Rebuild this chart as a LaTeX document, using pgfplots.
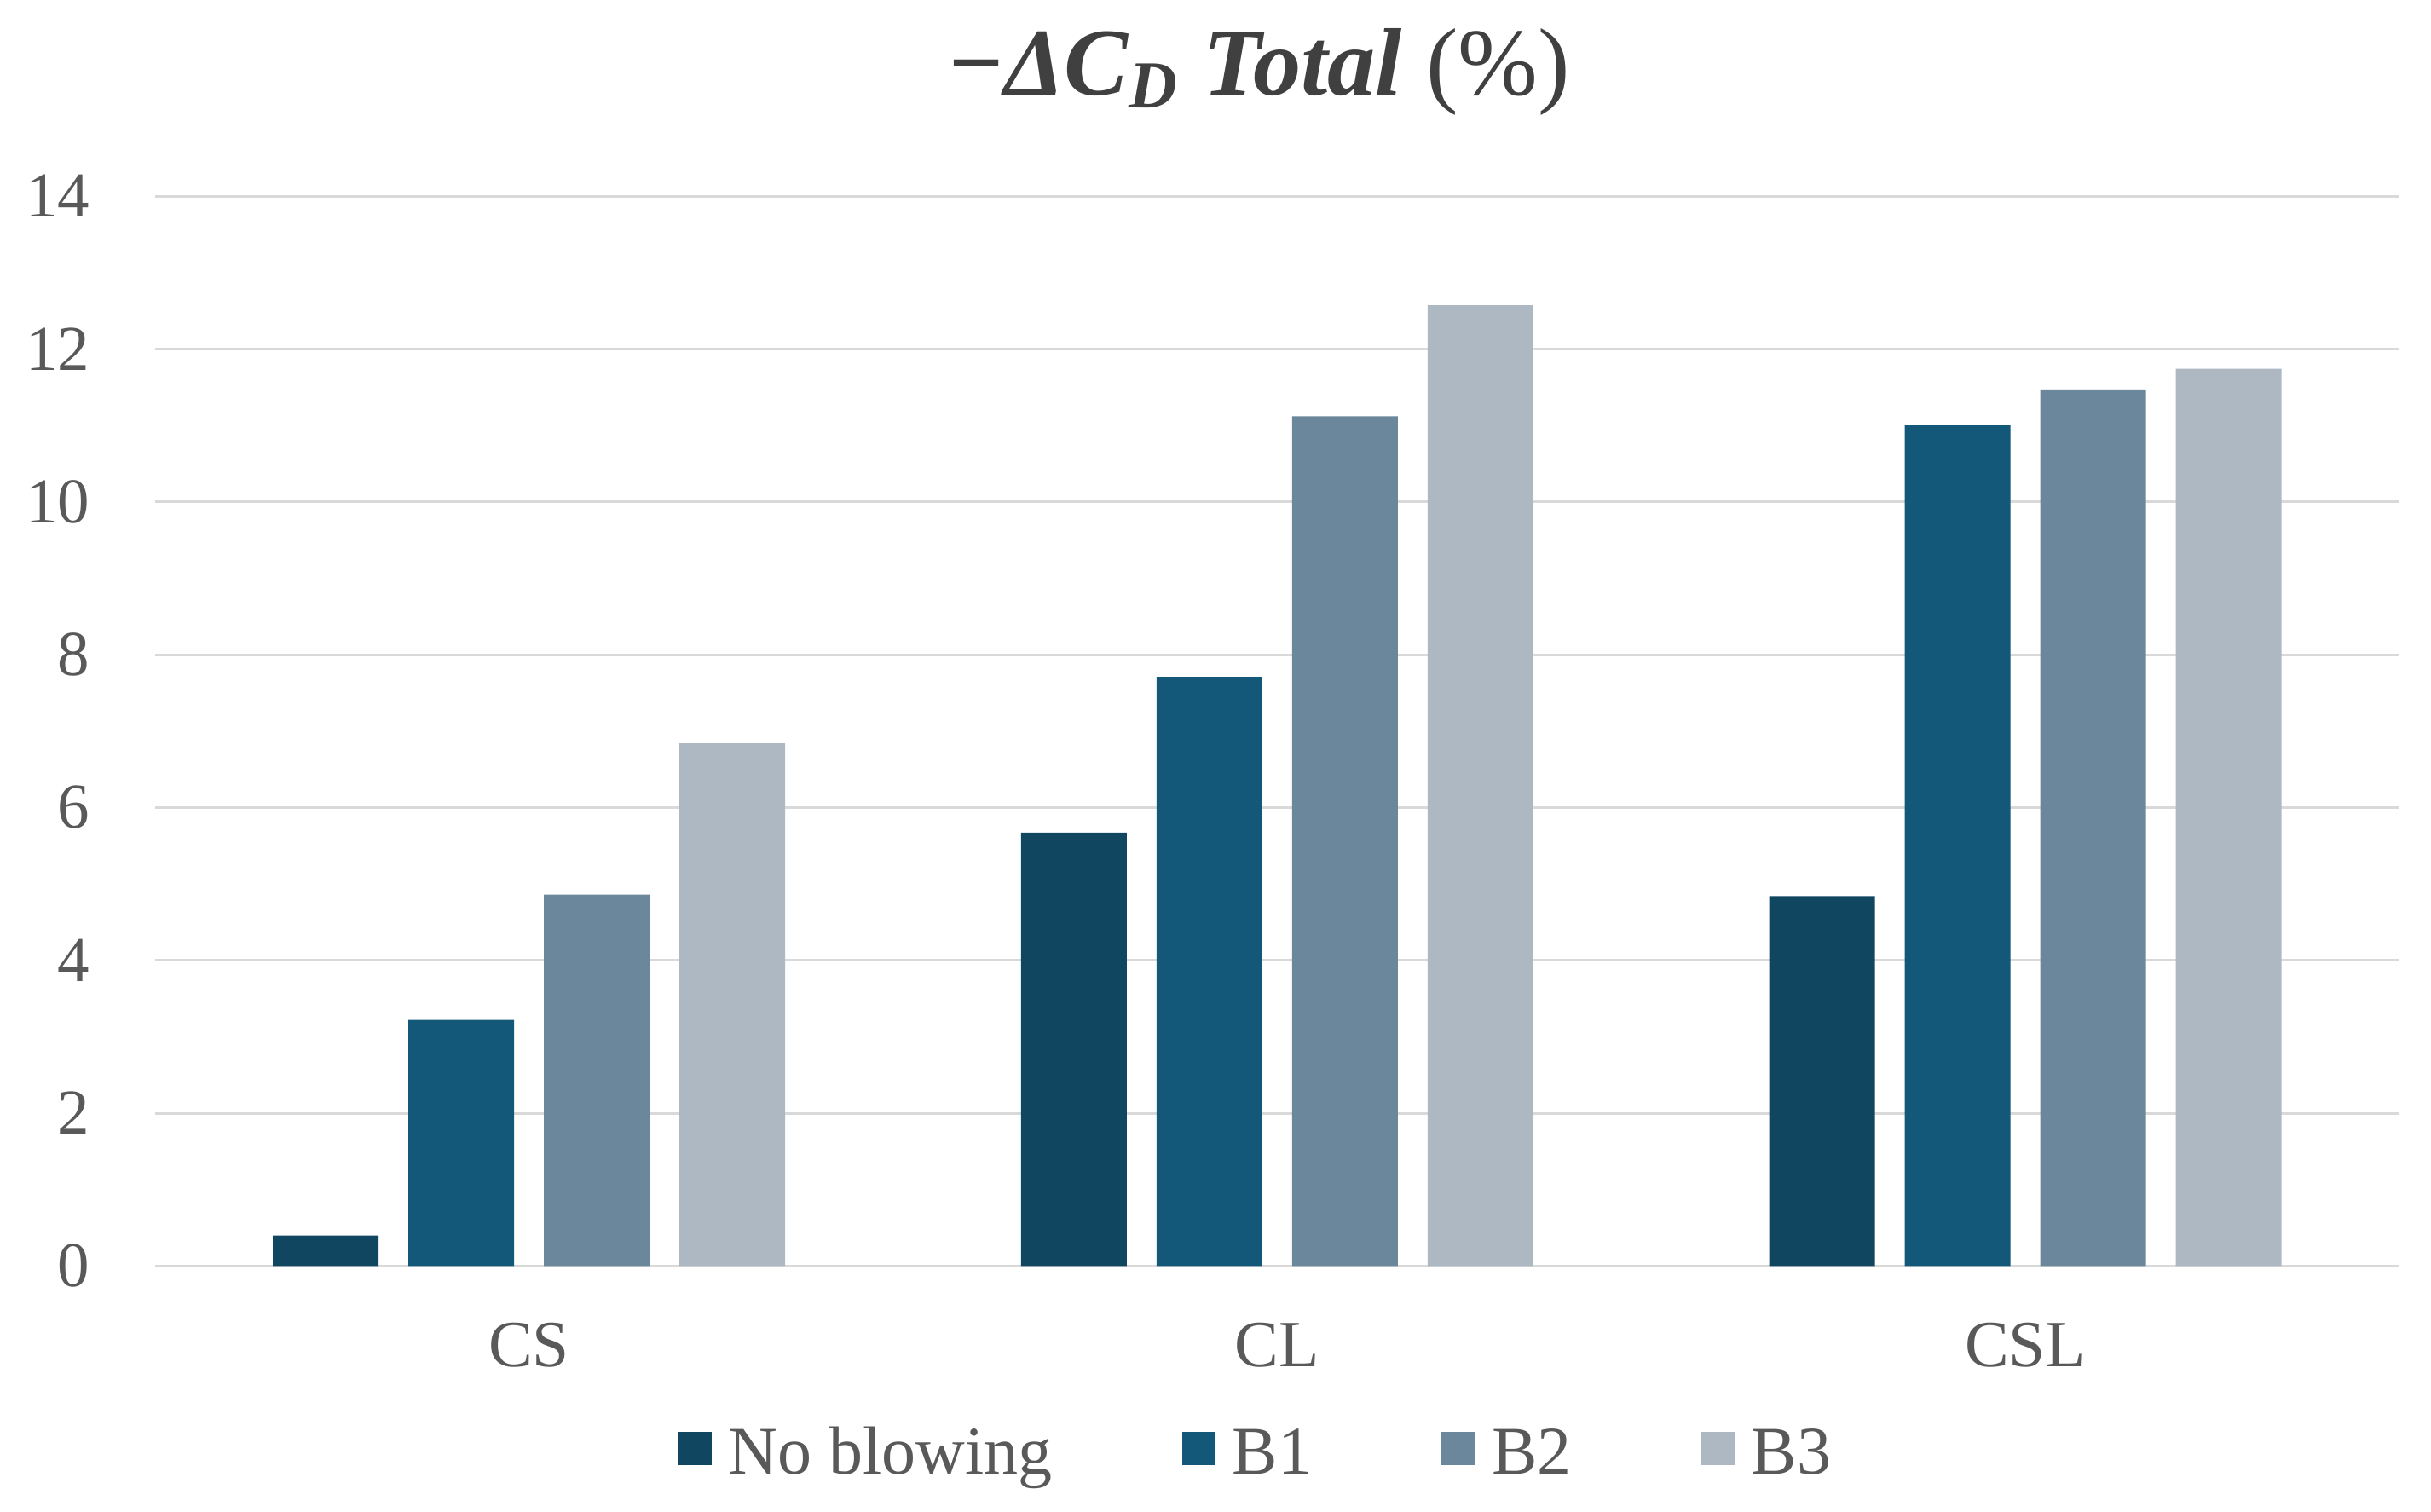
\documentclass[border=0pt]{standalone}
\usepackage{fontspec}
\setmainfont{Liberation Serif}
\usepackage{pgfplots}
\pgfplotsset{compat=1.18}
\definecolor{cNB}{HTML}{10465F}
\definecolor{cB1}{HTML}{135878}
\definecolor{cB2}{HTML}{6B879C}
\definecolor{cB3}{HTML}{AEB8C3}
\definecolor{textgray}{HTML}{595959}
\definecolor{titlegray}{HTML}{404040}
\definecolor{gridgray}{HTML}{D9D9D9}
\begin{document}
\begin{tikzpicture}
\useasboundingbox (-36.34pt,-57.52pt) rectangle (534.06pt,297.08pt);
\begin{axis}[
  scale only axis,
  width=526.66pt, height=251.08pt,
  xmin=-0.5, xmax=2.5, ymin=0, ymax=14,
  xtick={0,1,2}, xticklabels={CS,CL,CSL},
  ytick={0,2,...,14},
  ymajorgrids,
  grid style={draw=gridgray, line width=0.6pt},
  axis x line=bottom, axis y line=left,
  axis line style={draw=none,-},
  tick style={draw=none},
  /pgf/number format/assume math mode=true,
  yticklabel style={font=\fontsize{15}{18}\selectfont, text=textgray, anchor=east, inner sep=0pt, xshift=-13pt},
  xticklabel style={font=\fontsize{15.5}{18}\selectfont, text=textgray, anchor=base, inner sep=0pt, yshift=-19.3pt},
  ybar=7pt,
  bar width=24.8pt,
  title={\fontsize{22.5}{26}\selectfont\bfseries\itshape −ΔC\textsubscript{D} Total \normalfont(\%)},
  title style={at={(0.4915,1)}, anchor=base, yshift=17.8pt, text=titlegray, inner sep=0pt},
  legend columns=4,
  legend style={draw=none, fill=none, font=\fontsize{16}{19}\selectfont, text=textgray,
    at={(0.49,0)}, anchor=center, yshift=-45pt,
    /tikz/every odd column/.style={column sep=4pt},
    /tikz/every even column/.style={column sep=30.4pt},
    nodes={inner sep=0pt, text height=11pt, text depth=3.5pt}},
]
\addplot[fill=cNB, draw=none, legend image code/.code={\fill[cNB] (0pt,-1.75pt) rectangle (7.8pt,6.05pt);}] coordinates {(0,0.40) (1,5.67) (2,4.84)};
\addplot[fill=cB1, draw=none, legend image code/.code={\fill[cB1] (0pt,-1.75pt) rectangle (7.8pt,6.05pt);}] coordinates {(0,3.22) (1,7.71) (2,11.00)};
\addplot[fill=cB2, draw=none, legend image code/.code={\fill[cB2] (0pt,-1.75pt) rectangle (7.8pt,6.05pt);}] coordinates {(0,4.86) (1,11.12) (2,11.47)};
\addplot[fill=cB3, draw=none, legend image code/.code={\fill[cB3] (0pt,-1.75pt) rectangle (7.8pt,6.05pt);}] coordinates {(0,6.84) (1,12.57) (2,11.74)};
\legend{No blowing,B1,B2,B3}
\end{axis}
\end{tikzpicture}
\end{document}
